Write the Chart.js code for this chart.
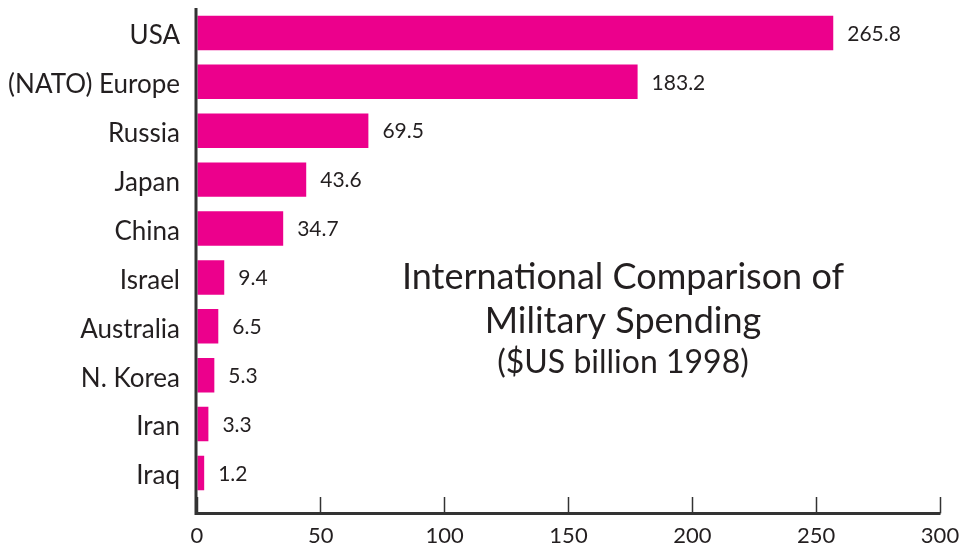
<!DOCTYPE html>
<html>
<head>
<meta charset="utf-8">
<script src="https://cdn.jsdelivr.net/npm/chart.js@4.4.1/dist/chart.umd.min.js"></script>
<style>
  html, body { margin: 0; padding: 0; background: #ffffff; }
  #wrap { width: 967px; height: 544px; }
</style>
</head>
<body>
<div id="wrap"><canvas id="c" width="967" height="544"></canvas></div>
<script>
// Categories (top to bottom)
const countries = ["USA", "(NATO) Europe", "Russia", "Japan", "China", "Israel", "Australia", "N. Korea", "Iran", "Iraq"];
// Printed value labels ($US billion, 1998)
const spendingLabels = ["265.8", "183.2", "69.5", "43.6", "34.7", "9.4", "6.5", "5.3", "3.3", "1.2"];
// Bar lengths as drawn in the picture (read against the x axis)
const barLengths = [256.9, 177.9, 69.2, 44.1, 34.8, 11.0, 8.6, 7.0, 4.6, 2.9];
// X axis ticks
const xTicks = [0, 50, 100, 150, 200, 250, 300];
// Title lines
const titleLines = ["International Comparison of", "Military Spending", "($US billion 1998)"];

const FONT = "Lato, 'Noto Sans', sans-serif";
const INK = "#231f20";
const PINK = "#ec008c";
const TICK_LEN = 16;

const axesPlugin = {
  id: 'axesLines',
  afterDraw(chart) {
    const ctx = chart.ctx;
    const a = chart.chartArea;
    const xs = chart.scales.x;
    const yAxisLine = xs.top + TICK_LEN;
    ctx.save();
    ctx.strokeStyle = "#333333";
    ctx.lineWidth = 3;
    ctx.beginPath();
    ctx.moveTo(a.left - 1, a.top - 0.5);
    ctx.lineTo(a.left - 1, yAxisLine);
    ctx.lineTo(a.right + 0.5, yAxisLine);
    ctx.stroke();
    ctx.restore();
  }
};

const valueLabelPlugin = {
  id: 'valueLabels',
  afterDatasetsDraw(chart) {
    const ctx = chart.ctx;
    const meta = chart.getDatasetMeta(0);
    ctx.save();
    ctx.font = "21px " + FONT;
    ctx.fillStyle = INK;
    ctx.textAlign = "left";
    ctx.textBaseline = "middle";
    meta.data.forEach((bar, i) => {
      ctx.fillText(spendingLabels[i], bar.x + 14, bar.y + 1);
    });
    ctx.restore();
  }
};

const titlePlugin = {
  id: 'innerTitle',
  afterDraw(chart) {
    const ctx = chart.ctx;
    const xs = chart.scales.x;
    const cx = xs.getPixelForValue(172);
    ctx.save();
    ctx.fillStyle = INK;
    ctx.textAlign = "center";
    ctx.textBaseline = "alphabetic";
    ctx.font = "36px " + FONT;
    ctx.fillText(titleLines[0], cx, 289);
    ctx.fillText(titleLines[1], cx, 333);
    ctx.font = "32px " + FONT;
    ctx.fillText(titleLines[2], cx, 373);
    ctx.restore();
  }
};

new Chart(document.getElementById('c'), {
  type: 'bar',
  data: {
    labels: countries,
    datasets: [{
      data: barLengths,
      backgroundColor: PINK,
      borderWidth: 0,
      barPercentage: 0.94,
      categoryPercentage: 0.75
    }]
  },
  options: {
    indexAxis: 'y',
    responsive: false,
    animation: false,
    devicePixelRatio: 1,
    layout: { padding: { top: 8.5, right: 27, bottom: 0, left: 0 } },
    plugins: {
      legend: { display: false },
      tooltip: { enabled: false },
      title: { display: false }
    },
    scales: {
      x: {
        type: 'linear',
        min: 0,
        max: 300,
        afterBuildTicks(scale) { scale.ticks = xTicks.map(v => ({ value: v })); },
        afterFit(scale) {
          scale.height = 46.6;
          scale.paddingLeft = 0; scale.paddingRight = 0;
        },
        grid: {
          display: true,
          drawOnChartArea: false,
          drawTicks: true,
          tickLength: TICK_LEN,
          tickWidth: 1.5,
          tickColor: "#333333"
        },
        border: { display: false },
        ticks: {
          font: { family: FONT, size: 22 },
          color: INK,
          padding: 9,
          maxRotation: 0
        }
      },
      y: {
        afterFit(scale) {
          scale.width = 197;
          scale.paddingTop = 0; scale.paddingBottom = 0;
        },
        grid: { display: true, drawOnChartArea: false, drawTicks: false },
        border: { display: false },
        ticks: {
          font: { family: FONT, size: 26 },
          color: INK,
          padding: 17,
          labelOffset: 3
        }
      }
    }
  },
  plugins: [axesPlugin, valueLabelPlugin, titlePlugin]
});
</script>
</body>
</html>
